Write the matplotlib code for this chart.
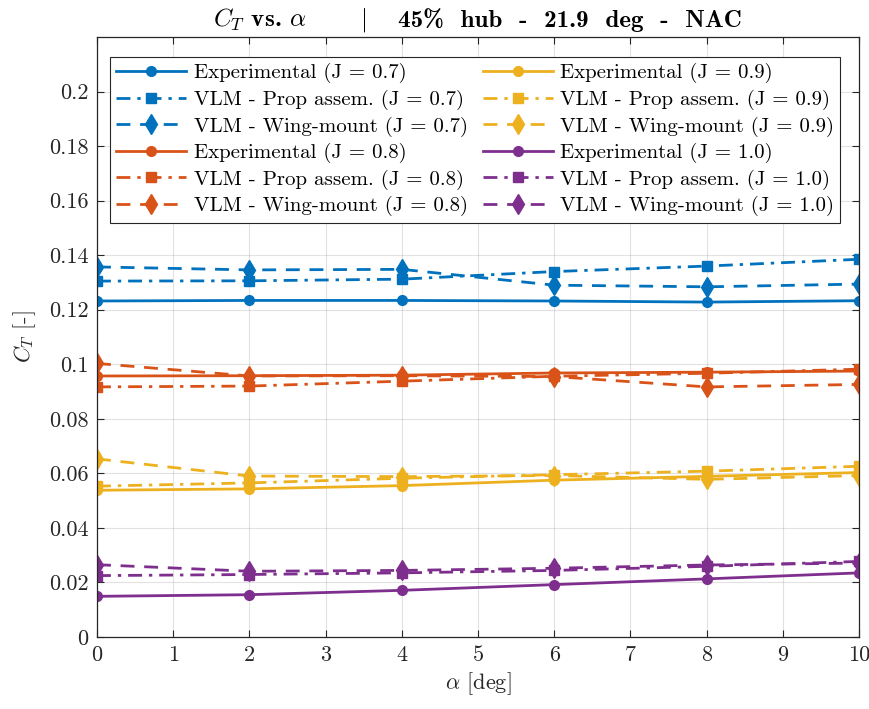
import matplotlib
matplotlib.use("Agg")
import matplotlib.pyplot as plt

plt.rcParams["font.family"] = "serif"
plt.rcParams["font.serif"] = ["cmr10"]
plt.rcParams["mathtext.fontset"] = "cm"
plt.rcParams["axes.formatter.use_mathtext"] = True
plt.rcParams["axes.unicode_minus"] = False

alpha = [0, 2, 4, 6, 8, 10]

# Thrust coefficient per advance ratio J
exp_07 = [0.1232, 0.1234, 0.1234, 0.1232, 0.1228, 0.1233]
prop_07 = [0.1305, 0.1306, 0.1312, 0.1340, 0.1360, 0.1385]
wing_07 = [0.1357, 0.1346, 0.1348, 0.1290, 0.1284, 0.1294]

exp_08 = [0.0957, 0.0958, 0.0960, 0.0968, 0.0971, 0.0975]
prop_08 = [0.0917, 0.0920, 0.0938, 0.0956, 0.0967, 0.0982]
wing_08 = [0.1003, 0.0957, 0.0958, 0.0955, 0.0917, 0.0926]

exp_09 = [0.0538, 0.0543, 0.0555, 0.0575, 0.0589, 0.0603]
prop_09 = [0.0553, 0.0565, 0.0582, 0.0595, 0.0608, 0.0626]
wing_09 = [0.0653, 0.0590, 0.0588, 0.0592, 0.0578, 0.0592]

exp_10 = [0.0149, 0.0155, 0.0171, 0.0192, 0.0213, 0.0235]
prop_10 = [0.0225, 0.0229, 0.0235, 0.0244, 0.0259, 0.0277]
wing_10 = [0.0265, 0.0241, 0.0244, 0.0252, 0.0264, 0.0271]

j_values = ["0.7", "0.8", "0.9", "1.0"]
colors = ["#0072BD", "#D95319", "#EDB120", "#7E2F8E"]
series = [
    (exp_07, prop_07, wing_07),
    (exp_08, prop_08, wing_08),
    (exp_09, prop_09, wing_09),
    (exp_10, prop_10, wing_10),
]

y_ticks = [0, 0.02, 0.04, 0.06, 0.08, 0.1, 0.12, 0.14, 0.16, 0.18, 0.2]
y_tick_labels = ["0", "0.02", "0.04", "0.06", "0.08", "0.1", "0.12", "0.14",
                 "0.16", "0.18", "0.2"]
x_ticks = list(range(0, 11))

fig = plt.figure(figsize=(8.7, 7.09), dpi=100)
ax = fig.add_axes([0.1115, 0.1016, 0.876, 0.8462])

for (exp_v, prop_v, wing_v), c, j in zip(series, colors, j_values):
    ax.plot(alpha, exp_v, "-", color=c, lw=2.0, marker="o", ms=7,
            label=f"Experimental (J = {j})")
    ax.plot(alpha, prop_v, "-.", color=c, lw=2.0, marker="s", ms=7.5,
            dashes=(5, 2.5, 1.2, 2.5), label=f"VLM - Prop assem. (J = {j})")
    ax.plot(alpha, wing_v, "--", color=c, lw=2.0, marker="d", ms=10,
            dashes=(5, 3.5), label=f"VLM - Wing-mount (J = {j})")

ax.set_xlim(0, 10)
ax.set_ylim(0, 0.22)
ax.set_xticks(x_ticks)
ax.set_xticklabels([str(v) for v in x_ticks])
ax.set_yticks(y_ticks)
ax.set_yticklabels(y_tick_labels)
ax.tick_params(direction="in", length=5, width=0.8, top=True, right=True,
               labelsize=16, colors="#262626", pad=6)
for sp in ax.spines.values():
    sp.set_color("#262626")
    sp.set_linewidth(0.9)
ax.grid(True, color="#262626", alpha=0.13, lw=0.8)
ax.set_axisbelow(True)

ax.set_xlabel(r"$\alpha$ [deg]", fontsize=16, color="#262626", labelpad=4)
ax.set_ylabel(r"$C_T$ [-]", fontsize=16, color="#262626", labelpad=8)

# Title in three pieces: quantity, separator, configuration
title_y = 1 - 27 / 709
fig.text(213 / 870, title_y, r"$C_T$ vs. $\alpha$", fontfamily="cmb10",
         fontsize=18, ha="left", va="baseline", color="black")
fig.text(363 / 870, title_y, r"$|$", fontsize=18, ha="center",
         va="baseline", color="black")
fig.text(398 / 870, title_y, "45%  hub  -  21.9  deg  -  NAC",
         fontfamily="cmb10", fontsize=18, ha="left", va="baseline",
         color="black")

leg = ax.legend(ncol=2, loc="upper left", mode="expand",
                bbox_to_anchor=(0.0171, 0.5, 0.958, 0.4667),
                fontsize=15, frameon=True, fancybox=False,
                edgecolor="#262626", framealpha=1.0, handlelength=3.37,
                numpoints=1, labelspacing=0.31, borderpad=0.3,
                handletextpad=0.34, columnspacing=0.5, borderaxespad=0)
leg.get_frame().set_linewidth(0.8)

fig.savefig("out.png", dpi=100)
